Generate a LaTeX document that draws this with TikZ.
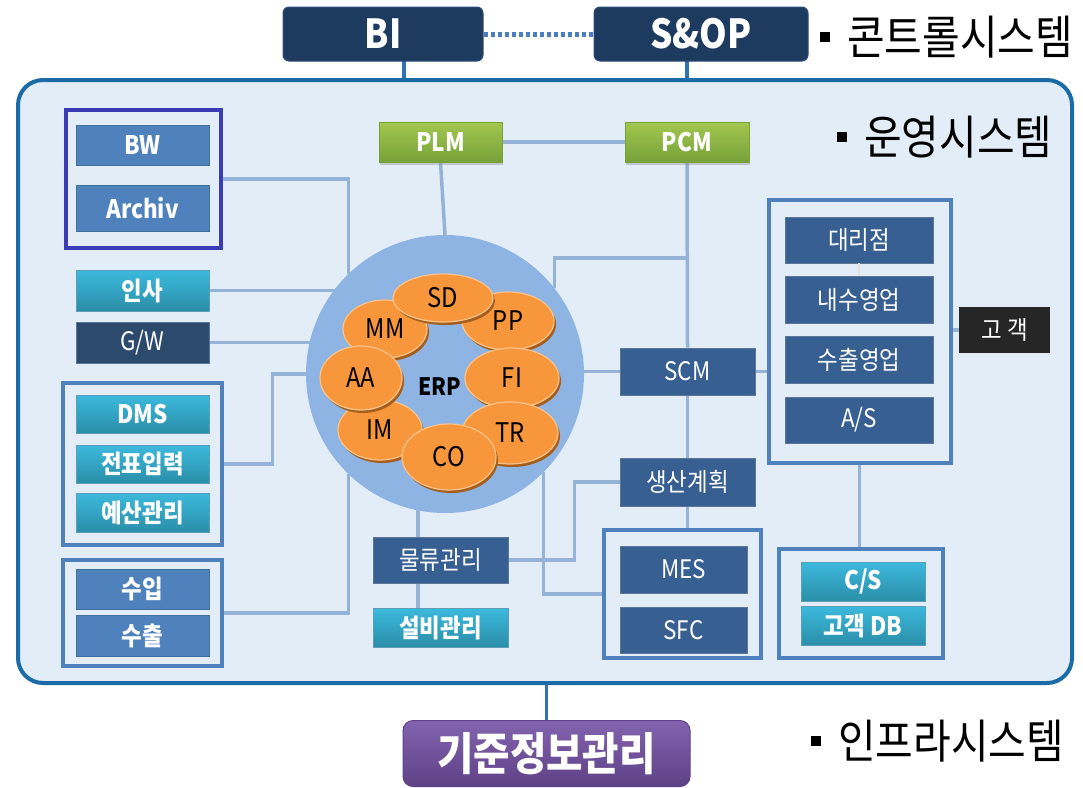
\documentclass[tikz,border=0pt]{standalone}
\usepackage{fontspec}
\setmainfont{Noto Sans CJK KR}[FakeStretch=0.88]
\usetikzlibrary{shapes.geometric,shadows,calc}
\pgfdeclarelayer{back}\pgfdeclarelayer{bg}
\pgfsetlayers{back,bg,main}
\definecolor{navyfill}{HTML}{1D3A5F}
\definecolor{navyedge}{HTML}{2E4E78}
\definecolor{frameline}{HTML}{1B6BA6}
\definecolor{framefill}{HTML}{E3EDF8}
\definecolor{bwframe}{HTML}{3B3BB5}
\definecolor{frameblue}{HTML}{4F81BD}
\definecolor{midblue}{HTML}{4F81BD}
\definecolor{midedge}{HTML}{41709F}
\definecolor{tealtop}{HTML}{3CB9DD}
\definecolor{tealbot}{HTML}{2A8EA8}
\definecolor{tealedge}{HTML}{5C9DB8}
\definecolor{dkblue}{HTML}{375F92}
\definecolor{dkedge}{HTML}{5A7799}
\definecolor{gwfill}{HTML}{2C4A6E}
\definecolor{greentop}{HTML}{A3C74F}
\definecolor{greenbot}{HTML}{77A23A}
\definecolor{gogaekfill}{HTML}{262626}
\definecolor{purpletop}{HTML}{8363AE}
\definecolor{purplebot}{HTML}{5E4187}
\definecolor{orbfill}{HTML}{F7963B}
\definecolor{orbhl}{HTML}{FBC48C}
\definecolor{orbsh}{HTML}{A65E1C}
\definecolor{circlefill}{HTML}{8EB4E3}
\definecolor{connblue}{HTML}{95B3D7}
\definecolor{topconnc}{HTML}{2E74B5}
\definecolor{dotblue}{HTML}{4A7EC0}
\definecolor{tickc}{HTML}{E2E2DA}
\begin{document}
\begin{tikzpicture}[x=1pt,y=-1pt,
  box/.style={rectangle, inner sep=0pt, text=white, font=\fontsize{25.5}{28}\selectfont},
  dk/.style={box, fill=dkblue, draw=dkedge, line width=0.8pt},
  gwbox/.style={box, fill=gwfill, draw=dkedge, line width=0.8pt},
  tealbox/.style={box, top color=tealtop, bottom color=tealbot, draw=tealedge, line width=0.8pt, font=\fontsize{25.5}{28}\selectfont\bfseries},
  blu/.style={box, fill=midblue, draw=midedge, line width=0.8pt, font=\fontsize{25.5}{28}\selectfont\bfseries},
  grn/.style={box, top color=greentop, bottom color=greenbot, draw=greenbot, line width=0.8pt, font=\fontsize{25.5}{28}\selectfont\bfseries, drop shadow={shadow xshift=1pt, shadow yshift=-3pt, opacity=0.35}},
  navy/.style={rectangle, inner sep=0pt, rounded corners=6pt, fill=navyfill, draw=navyedge, line width=1pt, text=white, font=\fontsize{40}{44}\selectfont\bfseries},
  grp/.style={rectangle, draw=frameblue, line width=4pt, inner sep=0pt},
  biglabel/.style={inner sep=0pt, text=black, font=\fontsize{46.5}{50}\selectfont},
  conn/.style={draw=connblue, line width=3.5pt},
  topconn/.style={draw=topconnc, line width=3.5pt},
  dotconn/.style={draw=dotblue, line width=5pt, dash pattern=on 4pt off 3pt},
  tickline/.style={draw=tickc, line width=2pt},
  orb/.style={ellipse, inner sep=0pt, fill=orbfill, draw=orbhl, line width=1.2pt, text=black, font=\fontsize{27}{30}\selectfont, drop shadow={shadow xshift=2pt, shadow yshift=-3pt, fill=orbsh, opacity=1}}
]
\useasboundingbox (0,0) rectangle (1083,787);

\begin{pgfonlayer}{back}
\node[rectangle, rounded corners=25pt, draw=frameline, line width=4pt, fill=framefill, minimum width=1054, minimum height=603, inner sep=0pt] (ops) at (545,381.5) {};
\end{pgfonlayer}

% control system
\node[navy, minimum width=200, minimum height=54] (bi) at (383,34) {BI};
\node[navy, minimum width=214, minimum height=54] (sop) at (701,34) {S\&OP};
\node[biglabel, anchor=west] (lctrl) at (820,37) {\rule[12pt]{10pt}{10pt}\hspace{17pt}콘트롤시스템};
\node[biglabel, anchor=west] (lops) at (837,137) {\rule[12pt]{10pt}{10pt}\hspace{17pt}운영시스템};
\node[biglabel, anchor=west] (linfra) at (811,741) {\rule[12pt]{10pt}{10pt}\hspace{17pt}인프라시스템};

% infra
\node[rectangle, rounded corners=10pt, inner sep=0pt, top color=purpletop, bottom color=purplebot, draw=purplebot, line width=1pt, text=white, font=\fontsize{45}{48}\selectfont\bfseries, minimum width=287, minimum height=66] (kijun) at (546.5,753.5) {기준정보관리};

% left column
\node[grp, draw=bwframe, minimum width=155, minimum height=138] (bwf) at (143.5,179) {};
\node[blu, minimum width=133, minimum height=40] (bw) at (142.5,145) {BW};
\node[blu, minimum width=133, minimum height=46] (archiv) at (142.5,208) {Archiv};
\node[tealbox, minimum width=133, minimum height=41] (insa) at (142.5,290.5) {인사};
\node[gwbox, minimum width=133, minimum height=41] (gw) at (142.5,342.5) {G/W};
\node[grp, minimum width=159, minimum height=162] (dmsf) at (142,464) {};
\node[tealbox, minimum width=133, minimum height=38] (dms) at (142.5,414) {DMS};
\node[tealbox, minimum width=133, minimum height=38] (jeonpyo) at (142.5,464) {전표입력};
\node[tealbox, minimum width=133, minimum height=39] (yesan) at (142.5,512.5) {예산관리};
\node[grp, minimum width=159, minimum height=106] (suipf) at (142,613) {};
\node[blu, minimum width=133, minimum height=40] (suip) at (142.5,589) {수입};
\node[blu, minimum width=133, minimum height=41] (suchul) at (142.5,635.5) {수출};

% top middle
\node[grn, minimum width=123, minimum height=40] (plm) at (440.5,142) {PLM};
\node[grn, minimum width=124, minimum height=40] (pcm) at (687,142) {PCM};

% ERP
\node[circle, fill=circlefill, minimum size=278, inner sep=0pt] (erp) at (445,374) {};
\node[orb, minimum width=92, minimum height=58] (pp) at (508,321) {PP};
\node[orb, minimum width=84, minimum height=58] (mm) at (385,329) {MM};
\node[orb, minimum width=100, minimum height=48] (sd) at (443,298) {SD};
\node[orb, minimum width=84, minimum height=60] (im) at (380,430) {IM};
\node[orb, minimum width=82, minimum height=64] (aa) at (361,378) {AA};
\node[orb, minimum width=94, minimum height=60] (fi) at (512,378) {FI};
\node[orb, minimum width=96, minimum height=62] (tr) at (510,433) {TR};
\node[orb, minimum width=94, minimum height=66] (co) at (449,457) {CO};
\node[inner sep=0pt, text=black, font=\fontsize{24}{27}\selectfont\bfseries] (erplabel) at (440,387) {ERP};

% bottom middle
\node[dk, minimum width=135, minimum height=46] (mulryu) at (440.5,560) {물류관리};
\node[tealbox, minimum width=135, minimum height=39] (seolbi) at (440.5,627.5) {설비관리};

% SCM column
\node[dk, minimum width=135, minimum height=47] (scm) at (687.5,371.5) {SCM};
\node[dk, minimum width=135, minimum height=48] (saengsan) at (687.5,482) {생산계획};
\node[grp, minimum width=157, minimum height=128] (mesf) at (682.5,594) {};
\node[dk, minimum width=127, minimum height=47] (mes) at (683.5,569.5) {MES};
\node[dk, minimum width=127, minimum height=46] (sfc) at (683.5,630) {SFC};

% sales column
\node[grp, minimum width=182, minimum height=263] (dealerf) at (859.5,331.5) {};
\node[dk, minimum width=148, minimum height=46] (daeri) at (859,240) {대리점};
\node[dk, minimum width=148, minimum height=47] (naesu) at (859,299.5) {내수영업};
\node[dk, minimum width=148, minimum height=47] (suchulyeong) at (859,359.5) {수출영업};
\node[dk, minimum width=148, minimum height=46] (as) at (859,420) {A/S};
\node[box, fill=gogaekfill, minimum width=91, minimum height=46] (gogaek) at (1004.5,330) {고 객};
\node[grp, minimum width=164, minimum height=109] (csf) at (861,603.5) {};
\node[tealbox, minimum width=124, minimum height=39] (cs) at (863,581.5) {C/S};
\node[tealbox, minimum width=124, minimum height=39] (gaekdb) at (863,625.5) {고객 DB};

% connectors
\begin{pgfonlayer}{bg}
\coordinate (biport) at (404,61);
\coordinate (sopport) at (687,61);
\draw[topconn] (biport) -- (biport |- ops.north);
\draw[topconn] (sopport) -- (sopport |- ops.north);
\draw[dotconn] (bi.east) -- (sop.west);
\draw[topconn] (kijun.north) -- (kijun.north |- ops.south);

\draw[conn] (plm.east) -- (pcm.west);
\draw[conn] (plm.south) -- (erp.north);
\draw[conn] (pcm.south) -- (scm.north);
\coordinate (j1) at (687,258);
\draw[conn] (j1) -| (erp.38);
\draw[conn] (bwf.east) -| (erp.134);
\draw[conn] (insa.east) -- (insa.east -| erp.center);
\draw[conn] (gw.east) -- (gw.east -| erp.center);
\draw[conn] (dmsf.east) -- ++(49,0) |- (erp.center);
\draw[conn] (suipf.east) -| (erp.226);
\coordinate (mtop) at (418,500);
\draw[conn] (mtop) -- (mtop |- mulryu.north);
\draw[conn] (mulryu.south -| mtop) -- (seolbi.north -| mtop);
\draw[conn] (saengsan.west) -- ++(-45,0) |- (mulryu.east);
\draw[conn] (erp.315) |- (mesf.west);
\draw[conn] (scm.west) -- (scm.west -| erp.center);
\draw[conn] (scm.east) -- (scm.east -| dealerf.west);
\draw[conn] (scm.south) -- (saengsan.north);
\draw[conn] (saengsan.south) -- (saengsan.south |- mesf.north);
\draw[conn] (dealerf.south) -- (dealerf.south |- csf.north);
\draw[conn] (gogaek.west) -- (gogaek.west -| dealerf.east);
\end{pgfonlayer}
\draw[tickline] (daeri.south) -- (naesu.north);
\end{tikzpicture}
\end{document}
